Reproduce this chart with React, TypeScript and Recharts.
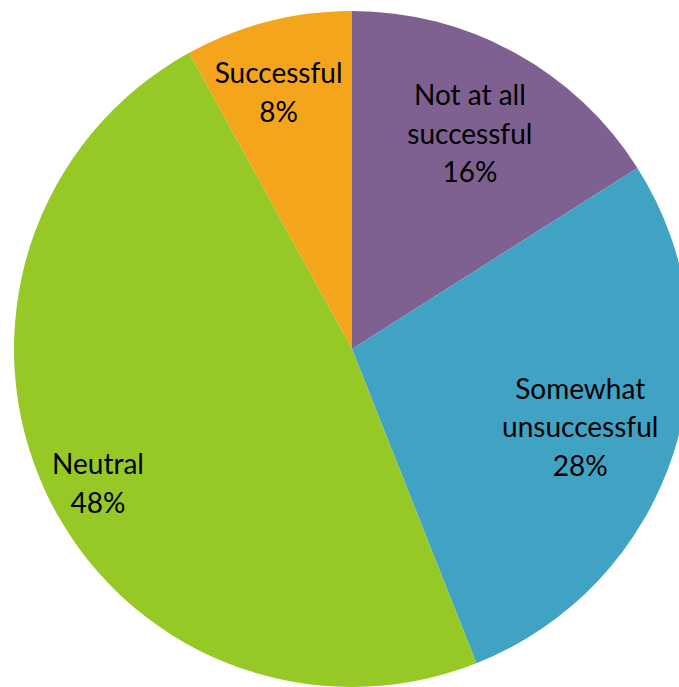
import React from "react";
import { PieChart, Pie, Cell } from "recharts";

const categories = ["Not at all\nsuccessful", "Somewhat\nunsuccessful", "Neutral", "Successful"];
const values = [16, 28, 48, 8];
const colors = ["#7E6191", "#40A3C3", "#96C826", "#F5A51B"];
const labelRadiusFactor = [0.73, 0.71, 0.85, 0.79];
const labelShift = [
  [-1, 0],
  [0, 3],
  [6, 11],
  [-7, 1],
];

const data = categories.map((c, i) => ({ name: c, value: values[i] }));
const RAD = Math.PI / 180;

const renderLabel = (props: any) => {
  const { cx, cy, midAngle, outerRadius, index } = props;
  const r = outerRadius * labelRadiusFactor[index];
  const x = cx + r * Math.cos(-midAngle * RAD) + labelShift[index][0];
  const y = cy + r * Math.sin(-midAngle * RAD) + labelShift[index][1];
  const lines = [...categories[index].split("\n"), `${values[index]}%`];
  const lh = 38.5;
  const start = y - ((lines.length - 1) * lh) / 2;
  return (
    <text
      key={`l${index}`}
      x={x}
      y={start}
      textAnchor="middle"
      dominantBaseline="central"
      fill="#000"
      fontSize={28}
      fontFamily="Lato, 'Open Sans', sans-serif"
    >
      {lines.map((t, i) => (
        <tspan key={i} x={x} y={start + i * lh}>
          {t}
        </tspan>
      ))}
    </text>
  );
};

export default function App() {
  return (
    <div style={{ position: "absolute", left: 0, top: 0, width: 679, height: 687, background: "#fff", overflow: "hidden" }}>
      <PieChart width={679} height={687} margin={{ top: 0, right: 0, bottom: 0, left: 0 }}>
        <Pie
          data={data}
          dataKey="value"
          nameKey="name"
          cx={352}
          cy={349}
          outerRadius={338}
          startAngle={90}
          endAngle={-270}
          stroke="none"
          label={renderLabel}
          labelLine={false}
          isAnimationActive={false}
        >
          {data.map((d, i) => (
            <Cell key={i} fill={colors[i]} />
          ))}
        </Pie>
      </PieChart>
    </div>
  );
}
